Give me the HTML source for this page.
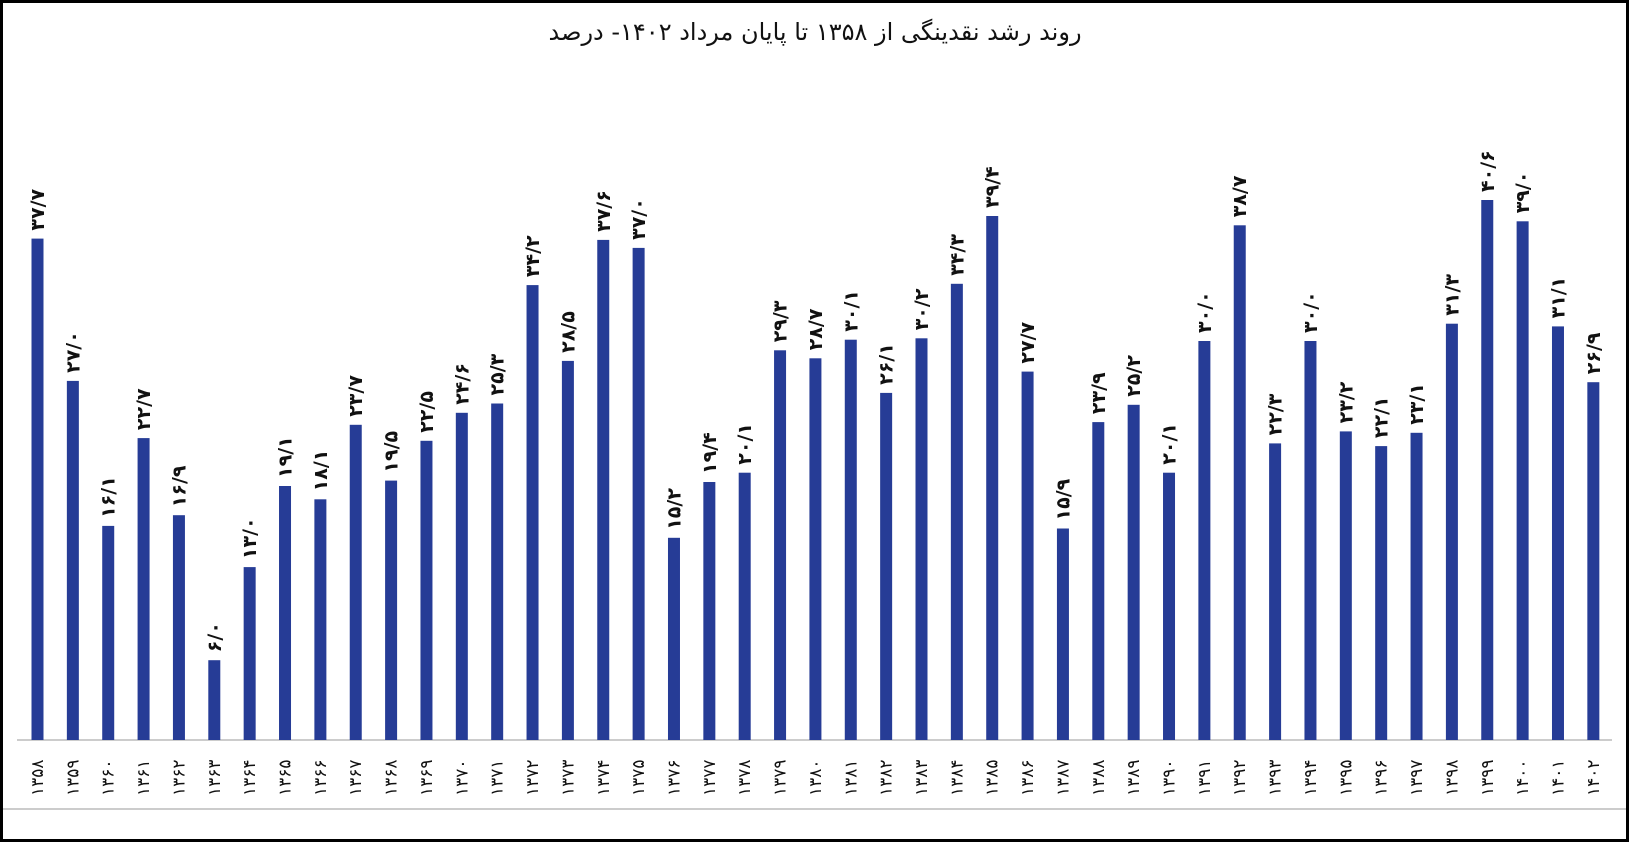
<!DOCTYPE html>
<html><head><meta charset="utf-8"><style>
html,body{margin:0;padding:0;background:#fff}
svg{display:block}
.v{font-family:"DejaVu Sans",sans-serif;font-weight:bold;font-size:19px;fill:#111}
.c{font-family:"DejaVu Sans",sans-serif;font-size:17px;fill:#111}
</style></head><body>
<svg width="1630" height="843" xmlns="http://www.w3.org/2000/svg">
<rect x="1.5" y="1.5" width="1626" height="839" fill="#fff" stroke="#000" stroke-width="3"/>
<text x="815" y="40" text-anchor="middle" font-family="DejaVu Sans, sans-serif" font-size="24" fill="#111" direction="rtl">روند رشد نقدینگی از ۱۳۵۸ تا پایان مرداد ۱۴۰۲- درصد</text>
<line x1="17" y1="740" x2="1612" y2="740" stroke="#bbb" stroke-width="1.5"/>
<line x1="3" y1="809" x2="1626" y2="809" stroke="#bbb" stroke-width="1.5"/>
<g fill="#263c96">
<rect x="31.5" y="238.6" width="12" height="501.4"/>
<rect x="66.86" y="380.9" width="12" height="359.1"/>
<rect x="102.22" y="525.9" width="12" height="214.1"/>
<rect x="137.58" y="438.1" width="12" height="301.9"/>
<rect x="172.94" y="515.2" width="12" height="224.8"/>
<rect x="208.3" y="660.2" width="12" height="79.8"/>
<rect x="243.66" y="567.1" width="12" height="172.9"/>
<rect x="279.02" y="486.0" width="12" height="254.0"/>
<rect x="314.38" y="499.3" width="12" height="240.7"/>
<rect x="349.74" y="424.8" width="12" height="315.2"/>
<rect x="385.1" y="480.6" width="12" height="259.4"/>
<rect x="420.46" y="440.8" width="12" height="299.2"/>
<rect x="455.82" y="412.8" width="12" height="327.2"/>
<rect x="491.18" y="403.5" width="12" height="336.5"/>
<rect x="526.54" y="285.1" width="12" height="454.9"/>
<rect x="561.9" y="360.9" width="12" height="379.1"/>
<rect x="597.26" y="239.9" width="12" height="500.1"/>
<rect x="632.62" y="247.9" width="12" height="492.1"/>
<rect x="667.98" y="537.8" width="12" height="202.2"/>
<rect x="703.34" y="482.0" width="12" height="258.0"/>
<rect x="738.7" y="472.7" width="12" height="267.3"/>
<rect x="774.06" y="350.3" width="12" height="389.7"/>
<rect x="809.42" y="358.3" width="12" height="381.7"/>
<rect x="844.78" y="339.7" width="12" height="400.3"/>
<rect x="880.14" y="392.9" width="12" height="347.1"/>
<rect x="915.5" y="338.3" width="12" height="401.7"/>
<rect x="950.86" y="283.8" width="12" height="456.2"/>
<rect x="986.22" y="216.0" width="12" height="524.0"/>
<rect x="1021.58" y="371.6" width="12" height="368.4"/>
<rect x="1056.94" y="528.5" width="12" height="211.5"/>
<rect x="1092.3" y="422.1" width="12" height="317.9"/>
<rect x="1127.66" y="404.8" width="12" height="335.2"/>
<rect x="1163.02" y="472.7" width="12" height="267.3"/>
<rect x="1198.38" y="341.0" width="12" height="399.0"/>
<rect x="1233.74" y="225.3" width="12" height="514.7"/>
<rect x="1269.1" y="443.4" width="12" height="296.6"/>
<rect x="1304.46" y="341.0" width="12" height="399.0"/>
<rect x="1339.82" y="431.4" width="12" height="308.6"/>
<rect x="1375.18" y="446.1" width="12" height="293.9"/>
<rect x="1410.54" y="432.8" width="12" height="307.2"/>
<rect x="1445.9" y="323.7" width="12" height="416.3"/>
<rect x="1481.26" y="200.0" width="12" height="540.0"/>
<rect x="1516.62" y="221.3" width="12" height="518.7"/>
<rect x="1551.98" y="326.4" width="12" height="413.6"/>
<rect x="1587.34" y="382.2" width="12" height="357.8"/>
</g>
<g class="v">
<text class="v" transform="translate(44,230.6) rotate(-90)">۳۷/۷</text>
<text class="v" transform="translate(79.36,372.9) rotate(-90)">۲۷/۰</text>
<text class="v" transform="translate(114.72,517.9) rotate(-90)">۱۶/۱</text>
<text class="v" transform="translate(150.08,430.1) rotate(-90)">۲۲/۷</text>
<text class="v" transform="translate(185.44,507.2) rotate(-90)">۱۶/۹</text>
<text class="v" transform="translate(220.8,652.2) rotate(-90)">۶/۰</text>
<text class="v" transform="translate(256.16,559.1) rotate(-90)">۱۳/۰</text>
<text class="v" transform="translate(291.52,478) rotate(-90)">۱۹/۱</text>
<text class="v" transform="translate(326.88,491.3) rotate(-90)">۱۸/۱</text>
<text class="v" transform="translate(362.24,416.8) rotate(-90)">۲۳/۷</text>
<text class="v" transform="translate(397.6,472.6) rotate(-90)">۱۹/۵</text>
<text class="v" transform="translate(432.96,432.8) rotate(-90)">۲۲/۵</text>
<text class="v" transform="translate(468.32,404.8) rotate(-90)">۲۴/۶</text>
<text class="v" transform="translate(503.68,395.5) rotate(-90)">۲۵/۳</text>
<text class="v" transform="translate(539.04,277.1) rotate(-90)">۳۴/۲</text>
<text class="v" transform="translate(574.4,352.9) rotate(-90)">۲۸/۵</text>
<text class="v" transform="translate(609.76,231.9) rotate(-90)">۳۷/۶</text>
<text class="v" transform="translate(645.12,239.9) rotate(-90)">۳۷/۰</text>
<text class="v" transform="translate(680.48,529.8) rotate(-90)">۱۵/۲</text>
<text class="v" transform="translate(715.84,474) rotate(-90)">۱۹/۴</text>
<text class="v" transform="translate(751.2,464.7) rotate(-90)">۲۰/۱</text>
<text class="v" transform="translate(786.56,342.3) rotate(-90)">۲۹/۳</text>
<text class="v" transform="translate(821.92,350.3) rotate(-90)">۲۸/۷</text>
<text class="v" transform="translate(857.28,331.7) rotate(-90)">۳۰/۱</text>
<text class="v" transform="translate(892.64,384.9) rotate(-90)">۲۶/۱</text>
<text class="v" transform="translate(928,330.3) rotate(-90)">۳۰/۲</text>
<text class="v" transform="translate(963.36,275.8) rotate(-90)">۳۴/۳</text>
<text class="v" transform="translate(998.72,208) rotate(-90)">۳۹/۴</text>
<text class="v" transform="translate(1034.08,363.6) rotate(-90)">۲۷/۷</text>
<text class="v" transform="translate(1069.44,520.5) rotate(-90)">۱۵/۹</text>
<text class="v" transform="translate(1104.8,414.1) rotate(-90)">۲۳/۹</text>
<text class="v" transform="translate(1140.16,396.8) rotate(-90)">۲۵/۲</text>
<text class="v" transform="translate(1175.52,464.7) rotate(-90)">۲۰/۱</text>
<text class="v" transform="translate(1210.88,333) rotate(-90)">۳۰/۰</text>
<text class="v" transform="translate(1246.24,217.3) rotate(-90)">۳۸/۷</text>
<text class="v" transform="translate(1281.6,435.4) rotate(-90)">۲۲/۳</text>
<text class="v" transform="translate(1316.96,333) rotate(-90)">۳۰/۰</text>
<text class="v" transform="translate(1352.32,423.4) rotate(-90)">۲۳/۲</text>
<text class="v" transform="translate(1387.68,438.1) rotate(-90)">۲۲/۱</text>
<text class="v" transform="translate(1423.04,424.8) rotate(-90)">۲۳/۱</text>
<text class="v" transform="translate(1458.4,315.7) rotate(-90)">۳۱/۳</text>
<text class="v" transform="translate(1493.76,192) rotate(-90)">۴۰/۶</text>
<text class="v" transform="translate(1529.12,213.3) rotate(-90)">۳۹/۰</text>
<text class="v" transform="translate(1564.48,318.4) rotate(-90)">۳۱/۱</text>
<text class="v" transform="translate(1599.84,374.2) rotate(-90)">۲۶/۹</text>
</g>
<g>
<text class="c" transform="translate(43,796) rotate(-90)">۱۳۵۸</text>
<text class="c" transform="translate(78.36,796) rotate(-90)">۱۳۵۹</text>
<text class="c" transform="translate(113.72,796) rotate(-90)">۱۳۶۰</text>
<text class="c" transform="translate(149.08,796) rotate(-90)">۱۳۶۱</text>
<text class="c" transform="translate(184.44,796) rotate(-90)">۱۳۶۲</text>
<text class="c" transform="translate(219.8,796) rotate(-90)">۱۳۶۳</text>
<text class="c" transform="translate(255.16,796) rotate(-90)">۱۳۶۴</text>
<text class="c" transform="translate(290.52,796) rotate(-90)">۱۳۶۵</text>
<text class="c" transform="translate(325.88,796) rotate(-90)">۱۳۶۶</text>
<text class="c" transform="translate(361.24,796) rotate(-90)">۱۳۶۷</text>
<text class="c" transform="translate(396.6,796) rotate(-90)">۱۳۶۸</text>
<text class="c" transform="translate(431.96,796) rotate(-90)">۱۳۶۹</text>
<text class="c" transform="translate(467.32,796) rotate(-90)">۱۳۷۰</text>
<text class="c" transform="translate(502.68,796) rotate(-90)">۱۳۷۱</text>
<text class="c" transform="translate(538.04,796) rotate(-90)">۱۳۷۲</text>
<text class="c" transform="translate(573.4,796) rotate(-90)">۱۳۷۳</text>
<text class="c" transform="translate(608.76,796) rotate(-90)">۱۳۷۴</text>
<text class="c" transform="translate(644.12,796) rotate(-90)">۱۳۷۵</text>
<text class="c" transform="translate(679.48,796) rotate(-90)">۱۳۷۶</text>
<text class="c" transform="translate(714.84,796) rotate(-90)">۱۳۷۷</text>
<text class="c" transform="translate(750.2,796) rotate(-90)">۱۳۷۸</text>
<text class="c" transform="translate(785.56,796) rotate(-90)">۱۳۷۹</text>
<text class="c" transform="translate(820.92,796) rotate(-90)">۱۳۸۰</text>
<text class="c" transform="translate(856.28,796) rotate(-90)">۱۳۸۱</text>
<text class="c" transform="translate(891.64,796) rotate(-90)">۱۳۸۲</text>
<text class="c" transform="translate(927,796) rotate(-90)">۱۳۸۳</text>
<text class="c" transform="translate(962.36,796) rotate(-90)">۱۳۸۴</text>
<text class="c" transform="translate(997.72,796) rotate(-90)">۱۳۸۵</text>
<text class="c" transform="translate(1033.08,796) rotate(-90)">۱۳۸۶</text>
<text class="c" transform="translate(1068.44,796) rotate(-90)">۱۳۸۷</text>
<text class="c" transform="translate(1103.8,796) rotate(-90)">۱۳۸۸</text>
<text class="c" transform="translate(1139.16,796) rotate(-90)">۱۳۸۹</text>
<text class="c" transform="translate(1174.52,796) rotate(-90)">۱۳۹۰</text>
<text class="c" transform="translate(1209.88,796) rotate(-90)">۱۳۹۱</text>
<text class="c" transform="translate(1245.24,796) rotate(-90)">۱۳۹۲</text>
<text class="c" transform="translate(1280.6,796) rotate(-90)">۱۳۹۳</text>
<text class="c" transform="translate(1315.96,796) rotate(-90)">۱۳۹۴</text>
<text class="c" transform="translate(1351.32,796) rotate(-90)">۱۳۹۵</text>
<text class="c" transform="translate(1386.68,796) rotate(-90)">۱۳۹۶</text>
<text class="c" transform="translate(1422.04,796) rotate(-90)">۱۳۹۷</text>
<text class="c" transform="translate(1457.4,796) rotate(-90)">۱۳۹۸</text>
<text class="c" transform="translate(1492.76,796) rotate(-90)">۱۳۹۹</text>
<text class="c" transform="translate(1528.12,796) rotate(-90)">۱۴۰۰</text>
<text class="c" transform="translate(1563.48,796) rotate(-90)">۱۴۰۱</text>
<text class="c" transform="translate(1598.84,796) rotate(-90)">۱۴۰۲</text>
</g>
</svg>
</body></html>
